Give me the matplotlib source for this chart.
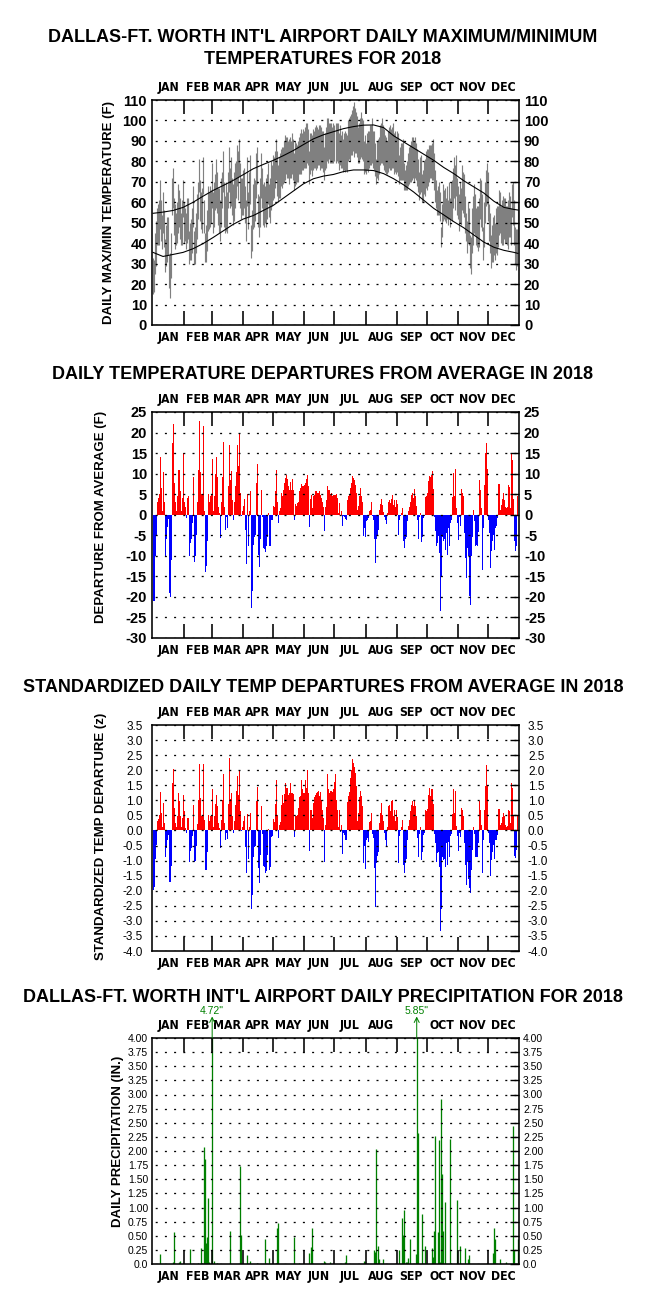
import numpy as np
import matplotlib
matplotlib.use('Agg')
import matplotlib.pyplot as plt
from matplotlib import font_manager
from matplotlib.font_manager import FontProperties
from matplotlib.ticker import FixedLocator, FuncFormatter

# ---------------- data ----------------
month_names = ['JAN', 'FEB', 'MAR', 'APR', 'MAY', 'JUN', 'JUL', 'AUG', 'SEP', 'OCT', 'NOV', 'DEC']
month_starts = [0, 31, 59, 90, 120, 151, 181, 212, 243, 273, 304, 334]
month_lengths = [31, 28, 31, 30, 31, 30, 31, 31, 30, 31, 30, 31]

tmax = [33,32,45,51,57,59,61,71,61,54, 65,56,42,49,53,53,34,35,45,72,
        77,62,59,55,60,69,66,62,55,61, 71,60,57,55,62,62,46,50,52,57,
        68,46,48,55,64,70,81,71,65,67, 82,61,45,49,56,68,65,68,66,79,
        65,70,74,81,75,67,67,61,72,75, 85,70,63,70,65,75,87,77,82,72,
        69,75,79,80,88,85,91,79,72,72, 76,77,68,61,82,65,75,83,49,56,
        69,72,71,84,87,64,63,72,84,77, 69,70,68,72,74,79,69,72,80,78,
        83,82,85,91,85,78,82,84,86,87, 87,90,93,92,92,90,91,92,90,94,
        91,84,90,89,88,90,92,94,96,94, 96,95,97,99,99,96,85,94,94,93,
        96,95,97,98,97,96,98,98,97,95, 95,87,94,97,101,101,99,99,99,97,
        99,98,99,99,99,94,98,93,95,91, 94,95,94,93,100,101,102,103,105,107,
        109,106,104,102,97,99,101,104,101,100, 90,93,89,94,95,95,98,98,101,95,
        95,89,81,90,91,92,98,99,101,98, 96,93,92,90,95,97,98,96,97,99,
        94,95,92,95,94,83,87,89,89,91, 79,76,78,80,84,87,88,90,92,92,
        90,92,89,86,81,75,82,83,74,76, 80,81,85,86,86,88,88,88,89,91,
        84,76,71,66,68,70,65,48,59,69, 66,67,62,68,61,70,62,70,71,77,
        82,78,83,72,68,64,70,67,78,75, 74,63,55,51,60,57,44,43,57,63,
        69,64,57,58,58,62,72,71,64,48, 60,70,76,79,75,59,55,44,49,53,
        54,50,57,58,58,66,65,58,61,63, 62,62,58,58,61,65,63,57,69,70,
        61,48,47,47,60]

tmin = [15,16,25,29,39,39,39,47,41,37, 45,38,26,29,31,34,18,13,23,54,
        57,44,37,39,40,45,48,42,39,39, 53,40,41,37,40,42,30,32,32,35,
        48,30,30,35,42,52,65,51,47,45, 64,45,31,31,36,46,47,48,50,57,
        45,48,56,57,55,49,45,41,48,57, 65,48,45,46,45,57,65,57,58,54,
        49,51,57,62,68,61,73,57,52,54, 54,57,50,41,58,47,53,59,33,36,
        47,48,51,62,69,48,43,48,62,57, 49,48,50,48,52,59,53,50,56,58,
        61,62,67,71,63,60,62,62,68,67, 69,70,71,74,72,72,69,72,72,74,
        71,66,68,69,70,70,74,74,74,76, 76,77,77,77,79,78,69,74,76,73,
        76,77,77,76,77,78,78,76,77,77, 75,71,76,77,80,79,81,79,79,79,
        79,80,79,80,79,76,78,77,77,75, 76,75,76,75,80,81,80,83,83,85,
        82,84,84,82,79,79,81,82,81,80, 74,75,74,76,75,77,78,78,79,77,
        76,73,69,72,71,74,78,79,79,78, 76,75,74,74,75,77,76,76,77,77,
        74,75,74,75,73,69,71,71,71,71, 66,66,66,66,68,69,70,70,71,72,
        70,72,71,68,65,61,64,65,60,60, 64,63,67,66,68,70,72,72,71,71,
        66,60,57,54,54,54,51,38,43,51, 52,51,50,52,49,52,48,52,51,57,
        62,56,63,54,52,46,50,49,56,55, 53,45,41,35,40,39,28,25,35,39,
        45,44,39,38,36,38,52,48,46,32, 38,50,58,59,51,41,35,28,31,31,
        34,32,35,34,38,44,45,40,39,39, 42,40,40,39,37,43,43,39,53,49,
        39,30,27,29,40]

normal_days = [0,10,20,30,40,50,60,70,80,90,100,110,120,130,140,150,160,170,180,
               190,200,210,220,230,240,250,260,270,280,290,300,310,320,330,340,350,360,364]
normal_high = [54.6,55.2,56.0,57.5,60.0,63.0,65.8,68.2,70.7,73.5,76.4,78.5,80.5,82.8,85.3,
               88.2,91.0,93.0,94.5,96.0,97.0,97.7,97.8,96.5,92.5,89.5,86.5,83.5,80.5,77.0,
               74.0,70.5,67.5,64.5,60.5,57.5,56.5,56.2]
normal_low = [35.5,33.5,34.5,35.5,37.3,39.8,42.8,46.0,49.2,51.8,53.5,56.0,58.5,62.0,65.5,
              69.0,71.5,72.8,73.6,75.0,75.8,75.8,75.5,74.0,71.5,68.5,65.0,61.0,57.0,53.8,
              50.5,47.5,44.0,40.5,38.0,36.5,35.5,35.0]

departure = [-21,-21,-10,-5,3,4,5,14,6.5,1, 10.4,3,-10.4,-6,-3,-1,-19,-20,-11,17.5,
             22,7.7,3,1,4.5,11,11,5.7,1,4, 15,3,2,-0.7,4,4.5,-10,-7,-6,-2,
             9.3,-11.5,-10,-5,3,11,22.7,10.5,5,5, 21.5,1,-14,-12.5,-6.5,5,3,4.5,5,13.5,
             1,4.5,10,14,9.3,2,0.3,-5.7,3,9.3, 17.6,2,-3.8,-0.5,-3.2,7,17,8.5,10.7,3.6,
             -1.2,3,7,10.3,17,11.8,20,5.4,-0.4,0.8, 2.2,3.8,-3.6,-12,5,-7.5,1,5.7,-22.7,-18.5,
             -7.3,-5.3,-4.9,7.7,12.3,-9.7,-12.6,-6,6,-0.6, -8,-8.4,-9,-7.7,-5.3,0.3,-7.7,-7.7,-1.2,-1.2,
             2.2,2,5.7,11,3,-2,0.8,1.6,5.3,4.5, 6,7.7,9,9.7,8.7,7,6,8,6,8.8,
             6,-1.2,2.7,2.2,2.8,3.2,5.7,6.5,7.5,7, 7,7.3,7.7,8.8,9.7,7,-3,3.8,4.9,1.6,
             4.5,4.9,5.8,5.7,5.4,5.3,5.7,4.9,4,3.2, 2,-4,2,3.6,7,6,6,5,5.4,4.5,
             4.9,4.9,4.9,5.1,4,0.5,2.8,-0.3,0.8,-2.7, -0.4,-0.6,-1.1,-1.4,3.6,4.5,4.9,6.5,7.7,9.5,
             9,8.5,7.3,5.4,1.2,2.2,4.5,6.5,4.5,3.2, -5.1,-3.2,-5.3,-1.6,-1.4,-0.8,1,1.2,3,-0.4,
             -1.2,-6,-11.8,-5.9,-4.9,-3.6,1.2,2.6,3.8,2.4, 0.6,-0.6,-1.4,-2.3,0.4,3.2,3.5,2.8,3.8,4.9,
             2.4,3.6,1.9,3.6,2.7,-4.9,-1.2,-0.4,0.4,1.6, -6.5,-8.1,-6,-5.3,-1.6,0.8,2,3.2,4.9,5.3,
             4,6.2,4.5,2.2,-1.2,-6,-0.6,0.5,-6.7,-5.3, -0.8,-0.4,4.3,4.5,5.3,8.1,9.5,9.2,9.7,10.7,
             6.2,-0.6,-4,-7.7,-6.9,-5.1,-9.3,-23.5,-15.2,-5.3, -6.5,-6,-8.5,-4.5,-9.7,-3.2,-7.7,-2,-1.2,4.3,
             10.1,4.5,11.2,1.6,-1.9,-6.2,-0.6,-2.8,6.2,5.3, 4.5,-4.5,-10.5,-15.4,-8.1,-10,-19.9,-21.9,-10,-5.3,
             1.2,-1.6,-7.7,-7.3,-7.5,-4.3,8.4,6,1.6,-13.4, -3.2,7.3,15,17.4,11.1,-1.2,-4.5,-13,-8.9,-6.5,
             -4.9,-8.5,-3.2,-2.7,-0.8,7.5,7.5,1.2,2.4,3.8, 5.3,3.6,1.9,1.6,1.9,7.3,6.7,1.6,15,13.4,
             3.8,-6.5,-8.9,-7.7,4.5]

zscore = [-1.98,-1.87,-0.94,-0.48,0.3,0.39,0.52,1.28,0.58,0.11, 0.91,0.24,-0.87,-0.57,-0.31,-0.14,-1.7,-1.7,-1.18,1.56,
          2.04,0.74,0.24,0.11,0.47,1.24,0.97,0.47,0.11,0.41, 1.19,0.63,0.08,-0.07,0.41,0.43,-1.03,-0.67,-0.57,-0.2,
          0.86,-1.03,-1.0,-0.5,0.2,1.02,2.22,1.08,0.49,0.49, 2.19,0.36,-1.31,-1.3,-0.7,0.52,0.3,0.49,0.52,1.36,
          0.13,0.47,0.89,1.19,0.8,0.24,0.08,-0.59,0.35,1.02, 1.86,0.24,-0.33,-0.09,-0.29,0.89,2.41,1.04,1.24,0.47,
          -0.09,0.3,0.86,1.3,1.82,1.19,1.96,0.63,-0.03,0.1, 0.3,0.49,-0.56,-1.42,0.56,-0.94,0.1,0.58,-2.62,-2.14,
          -0.89,-0.56,-0.51,0.97,1.44,-1.23,-1.73,-0.83,0.8,-0.11, -1.18,-1.2,-1.42,-1.33,-0.81,0.04,-1.31,-1.2,-0.22,-0.2,
          0.38,0.27,0.88,1.67,0.52,-0.26,0.19,0.27,0.86,1.19, 0.91,1.21,1.58,1.41,1.41,1.19,1.24,1.56,1.24,1.24,
          1.22,-0.22,0.49,0.47,0.52,0.74,1.11,1.13,1.69,1.36, 1.24,1.24,1.67,1.41,2.02,1.24,-0.67,0.69,0.69,0.41,
          0.91,1.11,1.19,1.24,1.27,1.3,1.13,1.27,1.02,0.69, 0.41,-1.03,0.19,0.77,1.89,1.36,1.24,1.3,1.3,1.28,
          1.36,1.6,1.89,1.02,0.69,0.1,0.69,-0.05,0.19,-0.78, -0.09,-0.14,-0.31,-0.33,0.93,1.13,1.27,1.74,2.02,2.38,
          2.24,2.11,1.91,1.47,0.33,0.58,1.11,1.3,1.16,0.8, -1.07,-0.53,-1.29,-0.31,-0.26,-0.38,0.27,0.3,0.58,-0.11,
          -0.26,-1.26,-2.53,-1.09,-0.84,-0.73,0.24,0.58,0.91,0.52, 0.3,-0.1,-0.31,-0.51,0.11,0.8,0.83,0.63,0.97,1.02,
          0.47,0.69,0.33,0.69,0.44,-1.07,-0.2,-0.03,0.1,0.36, -1.14,-1.42,-1.09,-0.96,-0.31,0.16,0.36,0.63,0.86,0.97,
          0.8,1.0,0.8,0.47,-0.26,-0.89,-0.11,0.1,-0.98,-0.7, -0.14,-0.09,0.69,0.63,0.71,1.19,1.41,1.16,1.38,1.36,
          0.89,-0.11,-0.42,-1.03,-0.76,-0.7,-1.2,-3.33,-2.59,-0.87, -0.98,-0.94,-1.2,-0.42,-1.14,-0.37,-0.87,-0.2,-0.11,0.56,
          1.36,0.58,1.3,0.16,-0.2,-0.67,-0.09,-0.22,0.74,0.69, 0.49,-0.42,-1.14,-1.81,-1.03,-1.62,-1.92,-2.09,-1.31,-0.64,
          0.13,-0.11,-0.89,-0.87,-0.87,-0.42,0.97,0.69,0.19,-1.42, -0.31,0.69,1.49,2.16,1.47,-0.09,-0.4,-1.51,-0.98,-0.7,
          -0.48,-0.96,-0.33,-0.33,-0.14,0.71,0.71,0.19,0.24,0.44, 0.58,0.47,0.19,0.13,0.16,0.69,0.63,0.24,1.56,1.41,
          0.49,-0.84,-0.92,-0.64,0.47]

precip_day = [7,20,21,26,27,37,45,48,49,51,52,53,54,55,56,59,61,64,77,87,88,94,97,104,112,
              116,123,124,125,141,146,156,158,159,171,172,177,191,192,210,211,220,221,222,224,
              225,229,245,248,249,250,252,253,254,256,262,263,264,268,271,278,279,280,281,284,
              285,286,287,288,289,291,296,297,303,306,311,314,315,333,339,340,341,346,352,359,360,364]
precip_amt = [0.17,0.03,0.56,0.03,0.05,0.27,0.02,0.28,0.02,2.07,1.86,0.37,0.48,1.16,0.03,4.72,0.05,
              0.02,0.58,1.73,0.51,0.16,0.05,0.02,0.44,0.11,0.02,0.63,0.73,0.48,0.02,0.19,0.30,0.63,
              0.05,0.03,0.03,0.03,0.16,0.05,0.03,0.24,0.22,2.04,0.32,0.09,0.09,0.24,0.81,0.51,0.96,
              0.04,0.04,0.11,0.44,0.17,5.85,2.31,0.88,0.32,0.29,0.12,0.58,2.27,0.56,2.19,0.04,2.92,
              1.59,0.58,1.10,2.21,0.02,1.13,0.32,0.29,0.09,0.16,0.02,0.19,0.63,0.44,0.09,0.04,2.45,
              0.24,0.44]

# ---------------- style ----------------
W, H = 646, 1314
PX = 0.72  # points per pixel at dpi 100
plt.rcParams['font.family'] = ['Liberation Sans', 'DejaVu Sans']
plt.rcParams['lines.scale_dashes'] = False

# a narrow bold face for month names, if one is installed
ttf = font_manager.fontManager.ttflist
month_font = None
month_size = 8.3
for f in ttf:
    if f.name == 'Liberation Sans Narrow':
        month_font = FontProperties(family='Liberation Sans Narrow', weight='bold')
        month_size = 9.5
        break
if month_font is None:
    for f in ttf:
        if f.name == 'DejaVu Sans' and str(f.stretch) in ('condensed', 'semi-condensed') and f.weight in (700, 'bold'):
            month_font = FontProperties(fname=f.fname)
            month_size = 8.8
            break
if month_font is None:
    month_font = FontProperties(family='Liberation Sans', weight='bold')

fig = plt.figure(figsize=(W / 100, H / 100), dpi=100)


def rect(top, bottom, left=152, right=519):
    return [left / W, 1 - bottom / H, (right - left) / W, (bottom - top) / H]


days = np.arange(len(departure))
mids = [s + n / 2 - 0.5 for s, n in zip(month_starts, month_lengths)]


def style_month(lab):
    lab.set_fontproperties(month_font)
    lab.set_fontsize(month_size)


def setup(ax, ylo, yhi, ticks, fmt, tfs, tweight, top_names, ylab, ylab_x, ylab_y, ypad=5):
    ax.set_xlim(-1, 365)
    ax.set_ylim(ylo, yhi)
    for s in ax.spines.values():
        s.set_linewidth(1.6 * PX)
    ax.set_xticks(month_starts[1:])
    ax.tick_params(axis='x', which='major', direction='in', length=14 * PX, width=1.6 * PX,
                   top=True, bottom=True, labelbottom=False)
    ax.set_xticks(mids, labels=month_names, minor=True)
    ax.tick_params(axis='x', which='minor', length=0, pad=6 * PX)
    for lab in ax.get_xticklabels(minor=True):
        style_month(lab)
    sec = ax.secondary_xaxis('top')
    sec.set_xticks(mids, labels=top_names)
    sec.tick_params(length=0, pad=6 * PX)
    sec.spines['top'].set_visible(False)
    for lab in sec.get_xticklabels():
        style_month(lab)
    ax.yaxis.set_major_locator(FixedLocator(ticks))
    ax.yaxis.set_major_formatter(FuncFormatter(fmt))
    ax.tick_params(axis='y', which='major', left=False, right=True, direction='in',
                   length=9 * PX, width=1.4 * PX, labelleft=True, labelright=True,
                   labelsize=tfs, pad=ypad * PX)
    for t in ax.yaxis.get_major_ticks():
        t.label1.set_fontweight(tweight)
        t.label2.set_fontweight(tweight)
    ax.grid(axis='y', color='black', linewidth=1.3 * PX, linestyle=(6 * PX, (2 * PX, 7.2 * PX)))
    ax.set_axisbelow(False)
    fig.text(ylab_x / W, 1 - ylab_y / H, ylab, rotation=90, ha='center', va='center',
             fontsize=9.5, fontweight='bold')


# ---------- panel 1: max/min ----------
ax1 = fig.add_axes(rect(100, 325))
ax1.vlines(days, tmin, tmax, color='#808080', linewidth=1.15 * PX, zorder=2)
ax1.plot(normal_days, normal_high, color='black', linewidth=1.1 * PX, zorder=3)
ax1.plot(normal_days, normal_low, color='black', linewidth=1.1 * PX, zorder=3)
setup(ax1, 0, 110, list(range(0, 111, 10)), lambda v, p: f'{v:.0f}', 10.5, 'bold',
      month_names, 'DAILY MAX/MIN TEMPERATURE (F)', 109, 213)
fig.text(323 / W, 1 - 38 / H, "DALLAS-FT. WORTH INT'L AIRPORT DAILY MAXIMUM/MINIMUM",
         ha='center', va='center', fontsize=13, fontweight='bold')
fig.text(323 / W, 1 - 59 / H, 'TEMPERATURES FOR 2018',
         ha='center', va='center', fontsize=13, fontweight='bold')

# ---------- panel 2: departures ----------
ax2 = fig.add_axes(rect(412, 638))
dep = np.array(departure)
ax2.bar(days, dep, width=1.0, color=np.where(dep >= 0, '#ff0000', '#0000ff'),
        linewidth=0, zorder=2)
setup(ax2, -30, 25, list(range(-30, 26, 5)), lambda v, p: f'{v:.0f}', 10.5, 'bold',
      month_names, 'DEPARTURE FROM AVERAGE (F)', 101, 517)
fig.text(323 / W, 1 - 375 / H, 'DAILY TEMPERATURE DEPARTURES FROM AVERAGE IN 2018',
         ha='center', va='center', fontsize=13, fontweight='bold')

# ---------- panel 3: standardized ----------
ax3 = fig.add_axes(rect(725, 951))
zz = np.array(zscore)
ax3.bar(days, zz, width=1.0, color=np.where(zz >= 0, '#ff0000', '#0000ff'),
        linewidth=0, zorder=2)
setup(ax3, -4.0, 3.5, [x / 2 for x in range(-8, 8)], lambda v, p: f'{v:.1f}', 8.5, 'normal',
      month_names, 'STANDARDIZED TEMP DEPARTURE (z)', 101, 836, ypad=9)
fig.text(323 / W, 1 - 687 / H, 'STANDARDIZED DAILY TEMP DEPARTURES FROM AVERAGE IN 2018',
         ha='center', va='center', fontsize=13, fontweight='bold')

# ---------- panel 4: precipitation ----------
ax4 = fig.add_axes(rect(1038, 1264))
ax4.vlines(precip_day, 0, precip_amt, color='#008000', linewidth=1.3 * PX, zorder=2)
top4 = [m if m != 'SEP' else '' for m in month_names]
setup(ax4, 0, 4.0, [x / 4 for x in range(0, 17)],
      lambda v, p: '0.0' if v == 0 else f'{v:.2f}', 7.5, 'normal',
      top4, 'DAILY PRECIPITATION (IN.)', 118, 1141, ypad=4)
fig.text(323 / W, 1 - 997 / H, "DALLAS-FT. WORTH INT'L AIRPORT DAILY PRECIPITATION FOR 2018",
         ha='center', va='center', fontsize=13, fontweight='bold')
for d, a in zip(precip_day, precip_amt):
    if a > 4.0:
        ax4.annotate('', xy=(d, 1.095), xytext=(d, 1.0), xycoords=('data', 'axes fraction'),
                     textcoords=('data', 'axes fraction'),
                     arrowprops=dict(arrowstyle='->,head_length=0.35,head_width=0.18',
                                     color='#008000', lw=1.0 * PX, shrinkA=0, shrinkB=0),
                     annotation_clip=False)
        ax4.annotate(f'{a:.2f}"', xy=(d, 1.0), xycoords=('data', 'axes fraction'),
                     xytext=(0, 27 * PX), textcoords='offset points', ha='center', va='center',
                     fontsize=7.5, color='#008000', annotation_clip=False)

fig.savefig('out.png', dpi=100)
